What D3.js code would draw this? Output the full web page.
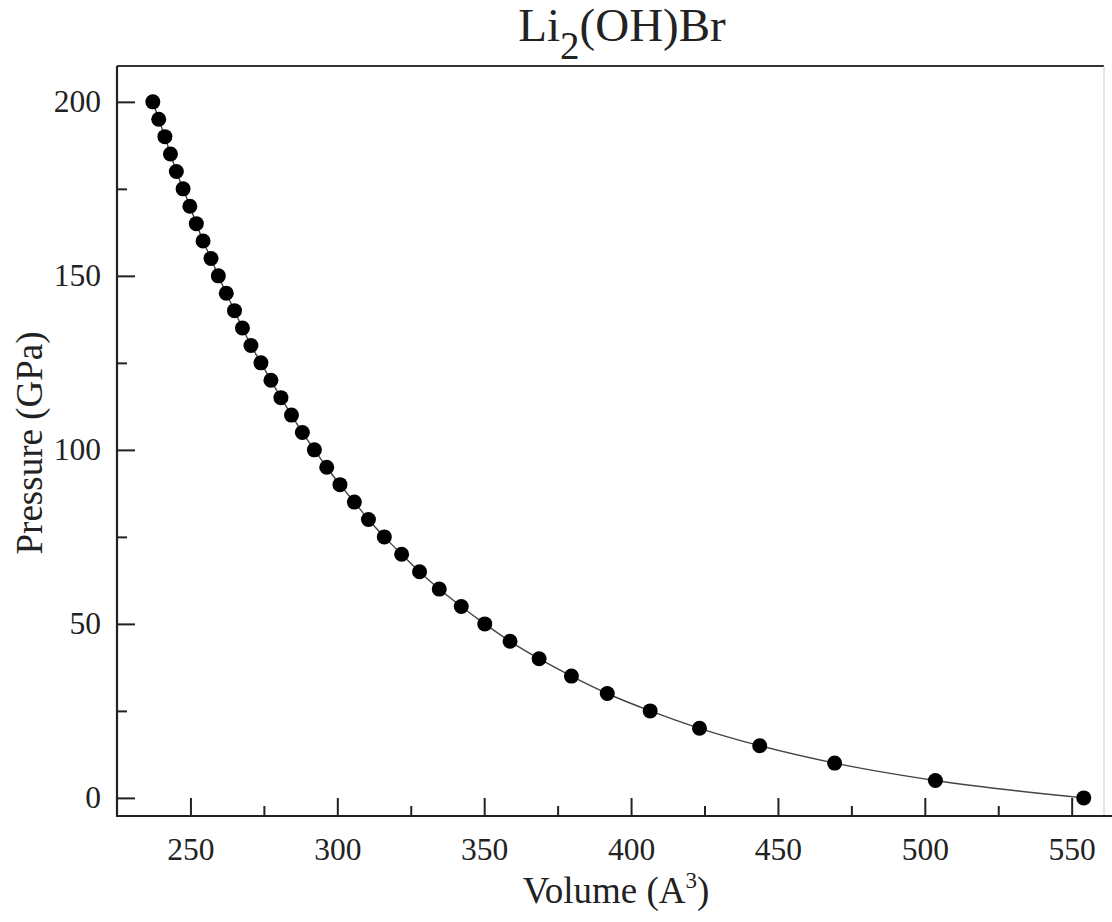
<!DOCTYPE html>
<html lang="en">
<head>
<meta charset="UTF-8">
<title>Li2(OH)Br P-V</title>
<script src="https://cdn.jsdelivr.net/npm/d3@7/dist/d3.min.js"></script>
<style>
    body { margin: 0; background: #fff; }
    svg { display: block; font-family: "Liberation Serif", "Times New Roman", serif; }
    .tick-label { font-size: 31.5px; fill: #222; }
    .axis-title { font-size: 37px; fill: #222; }
</style>
</head>
<body>
<script>
    // pressure (GPa) and volume (A^3)
    var pressure = [200, 195, 190, 185, 180, 175, 170, 165, 160, 155,
                    150, 145, 140, 135, 130, 125, 120, 115, 110, 105,
                    100, 95, 90, 85, 80, 75, 70, 65, 60, 55,
                    50, 45, 40, 35, 30, 25, 20, 15, 10, 5, 0];
    var volume = [237.2, 239.2, 241.3, 243.2, 245.2, 247.5, 249.8, 252.0, 254.3, 257.0,
                  259.5, 262.2, 265.0, 267.7, 270.6, 274.0, 277.4, 280.8, 284.4, 288.1,
                  292.2, 296.4, 300.9, 305.8, 310.6, 316.0, 321.9, 328.0, 334.7, 342.2,
                  350.2, 358.8, 368.7, 379.7, 391.9, 406.5, 423.3, 443.8, 469.3, 503.6, 554.1];
    var xTicks = [250, 300, 350, 400, 450, 500, 550];
    var xMinor = [275, 325, 375, 425, 475, 525];
    var yTicks = [0, 50, 100, 150, 200];
    var yMinor = [25, 75, 125, 175];

    var width = 1112, height = 922;
    // plot box (not "top": that name is taken by window.top)
    var pLeft = 117, pRight = 1104, pTop = 66, pBottom = 816;

    var points = volume.map(function (v, i) { return { v: v, p: pressure[i] }; });

    var x = d3.scaleLinear().domain([225, 561]).range([pLeft, pRight]);
    var y = d3.scaleLinear().domain([-5.2, 210.3]).range([pBottom, pTop]);

    var svg = d3.select('body').append('svg')
        .attr('width', width)
        .attr('height', height);

    // frame
    svg.append('line').attr('x1', pLeft).attr('x2', pRight).attr('y1', pTop).attr('y2', pTop)
        .attr('stroke', '#333').attr('stroke-width', 2.2);
    svg.append('line').attr('x1', pRight).attr('x2', pRight).attr('y1', pTop).attr('y2', pBottom)
        .attr('stroke', '#ccc').attr('stroke-width', 1);
    svg.append('line').attr('x1', pLeft).attr('x2', pLeft).attr('y1', pTop).attr('y2', pBottom + 1)
        .attr('stroke', '#222').attr('stroke-width', 2.2);
    svg.append('line').attr('x1', pLeft - 1).attr('x2', width).attr('y1', pBottom).attr('y2', pBottom)
        .attr('stroke', '#222').attr('stroke-width', 2.2);

    // x axis, ticks point inward
    var xAxis = d3.axisBottom(x).tickValues(xTicks).tickSize(-18).tickPadding(22).tickFormat(d3.format('d'));
    var gx = svg.append('g').attr('transform', 'translate(0,' + pBottom + ')').call(xAxis);
    var xAxisMinor = d3.axisBottom(x).tickValues(xMinor).tickSize(-10).tickFormat('');
    var gxm = svg.append('g').attr('transform', 'translate(0,' + pBottom + ')').call(xAxisMinor);

    // y axis
    var yAxis = d3.axisLeft(y).tickValues(yTicks).tickSize(-18).tickPadding(16).tickFormat(d3.format('d'));
    var gy = svg.append('g').attr('transform', 'translate(' + pLeft + ',0)').call(yAxis);
    var yAxisMinor = d3.axisLeft(y).tickValues(yMinor).tickSize(-10).tickFormat('');
    var gym = svg.append('g').attr('transform', 'translate(' + pLeft + ',0)').call(yAxisMinor);

    [gx, gxm, gy, gym].forEach(function (g) {
        g.attr('font-family', null).attr('font-size', null);
        g.select('.domain').remove();
        g.selectAll('.tick line').attr('stroke', '#222').attr('stroke-width', 2);
        g.selectAll('.tick text').attr('class', 'tick-label');
    });
    gx.selectAll('.tick text').attr('dy', '0.71em');

    // fitted curve through the points
    var line = d3.line()
        .x(function (d) { return x(d.v); })
        .y(function (d) { return y(d.p); })
        .curve(d3.curveMonotoneX);
    svg.append('path')
        .datum(points.slice().sort(function (a, b) { return a.v - b.v; }))
        .attr('d', line)
        .attr('fill', 'none')
        .attr('stroke', '#444')
        .attr('stroke-width', 1.4);

    // markers
    svg.selectAll('.dot')
        .data(points)
        .enter()
        .append('circle')
        .attr('class', 'dot')
        .attr('cx', function (d) { return x(d.v); })
        .attr('cy', function (d) { return y(d.p); })
        .attr('r', 7.5)
        .attr('fill', '#000');

    // title with subscript
    var title = svg.append('text')
        .attr('x', 622).attr('y', 41)
        .attr('text-anchor', 'middle')
        .attr('font-size', 47)
        .attr('fill', '#222');
    title.append('tspan').text('Li');
    title.append('tspan').attr('font-size', 39).attr('dy', 18).text('2');
    title.append('tspan').attr('dy', -18).text('(OH)Br');

    // axis titles
    var xt = svg.append('text')
        .attr('class', 'axis-title')
        .attr('x', 616).attr('y', 903)
        .attr('text-anchor', 'middle');
    xt.append('tspan').text('Volume (A');
    xt.append('tspan').attr('font-size', 23).attr('dy', -15).text('3');
    xt.append('tspan').attr('dy', 15).text(')');

    svg.append('text')
        .attr('class', 'axis-title')
        .attr('transform', 'translate(42,443) rotate(-90)')
        .attr('text-anchor', 'middle')
        .text('Pressure (GPa)');
</script>
</body>
</html>
